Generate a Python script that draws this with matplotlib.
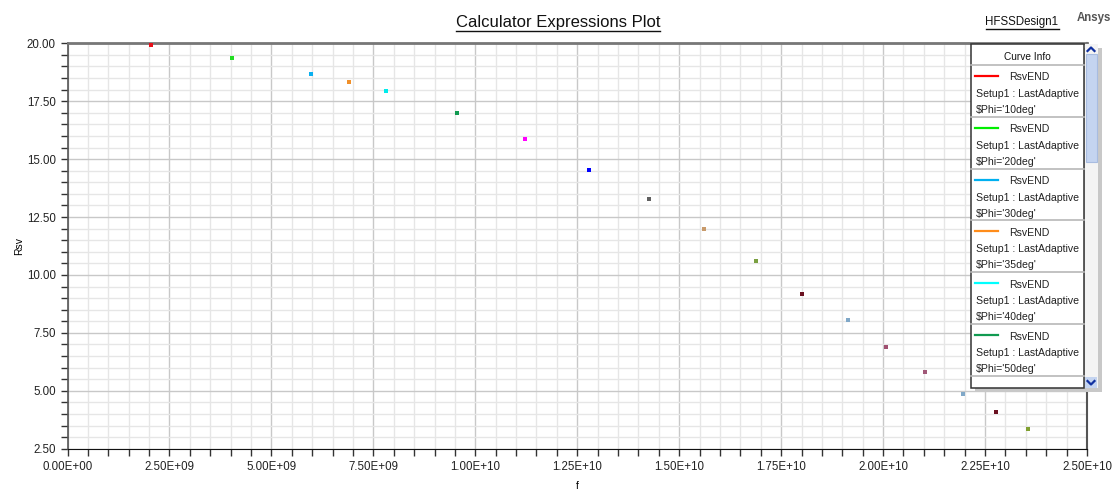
import numpy as np
import matplotlib
matplotlib.use("Agg")
import matplotlib.pyplot as plt
from matplotlib.patches import Rectangle
from matplotlib.lines import Line2D
from matplotlib.ticker import MultipleLocator, FuncFormatter

plt.rcParams['font.family'] = ['Liberation Sans', 'DejaVu Sans']

# sweep points (one per $Phi value)
freq = [2.05e9, 4.04e9, 5.97e9, 6.91e9, 7.82e9, 9.56e9, 11.23e9, 12.78e9, 14.27e9,
        15.61e9, 16.88e9, 18.00e9, 19.15e9, 20.06e9, 21.03e9, 21.95e9, 22.78e9, 23.55e9]
rsv = [19.93, 19.35, 18.69, 18.32, 17.94, 16.99, 15.87, 14.54, 13.27,
       11.97, 10.60, 9.19, 8.07, 6.88, 5.80, 4.88, 4.09, 3.34]
point_colors = ['#e8101a', '#22dd22', '#0ab0f0', '#f0902a', '#00ecec', '#109a50',
                '#ff00ff', '#0000ff', '#606060', '#c89a6a', '#7aa040', '#6a1020',
                '#80a8c8', '#a05070', '#a05878', '#80a8c8', '#6a1020', '#80a030']

# entries visible in the "Curve Info" box
legend_phi = ["10deg", "20deg", "30deg", "35deg", "40deg", "50deg"]
legend_colors = ['#ff0000', '#00ee00', '#00b0f0', '#ff8c1a', '#00ffff', '#109a50']

W, H = 1115, 491
fig = plt.figure(figsize=(W / 100, H / 100), dpi=100)


def px(x, y):
    return x / W, 1 - y / H


x0, x1, y0, y1 = 67.5, 1087, 43.3, 448.7
ax = fig.add_axes([x0 / W, 1 - y1 / H, (x1 - x0) / W, (y1 - y0) / H])

for f, r, c in zip(freq, rsv, point_colors):
    ax.plot(f, r, 's', color=c, markersize=2.3, markeredgewidth=0,
            clip_on=False, zorder=5)

ax.set_xlim(0, 2.5e10)
ax.set_ylim(2.5, 20)
ax.xaxis.set_major_locator(MultipleLocator(2.5e9))
ax.xaxis.set_minor_locator(MultipleLocator(5e8))
ax.yaxis.set_major_locator(MultipleLocator(2.5))
ax.yaxis.set_minor_locator(MultipleLocator(0.5))
ax.xaxis.set_major_formatter(FuncFormatter(lambda v, p: f"{v:.2E}"))
ax.yaxis.set_major_formatter(FuncFormatter(lambda v, p: f"{v:.2f}"))
ax.tick_params(which='both', direction='out', length=5, width=1, colors='#333333',
               labelsize=8.3, labelcolor='#222222')
ax.grid(which='major', color='#c8c8c8', lw=1)
ax.grid(which='minor', color='#e6e6e6', lw=1)
ax.set_axisbelow(True)
ax.spines['top'].set_color('#777777')
ax.spines['top'].set_linewidth(2)
ax.spines['left'].set_color('#555555')
ax.spines['left'].set_linewidth(1.2)
ax.spines['bottom'].set_color('#111111')
ax.spines['right'].set_color('#555555')
ax.spines['right'].set_linewidth(1.5)
ax.set_xlabel("f", fontsize=7.5, labelpad=6)
ax.set_ylabel("Rsv", fontsize=7.5, labelpad=2)

# titles
title = fig.text(*px(558, 22), "Calculator Expressions Plot", fontsize=12,
                 ha='center', va='center', color='#111111')
design = fig.text(*px(1022, 22), "HFSSDesign1", fontsize=8.3,
                  ha='center', va='center', color='#111111')
fig.text(*px(1094, 18), "Ansys", fontsize=8.3, weight='bold',
         ha='center', va='center', color='#555555')

fig.canvas.draw()
rend = fig.canvas.get_renderer()
for t in (title, design):
    bb = t.get_window_extent(rend)
    yline = bb.y0 - 1
    fig.add_artist(Line2D([bb.x0 / W, bb.x1 / W], [yline / H, yline / H],
                          color='#111111', lw=1))

# Curve Info box
lx0, lx1, ly0, ly1 = 971, 1084, 43.5, 388
fig.add_artist(Rectangle(px(975, 392), 127 / W, 344 / H, facecolor='#c8c8c8',
                         edgecolor='none', zorder=5))
fig.add_artist(Rectangle(px(lx0, ly1), (lx1 - lx0) / W, (ly1 - ly0) / H,
                         facecolor='white', edgecolor='#333333', lw=1.1, zorder=6))
# scrollbar
fig.add_artist(Rectangle(px(1084.5, 388), 13 / W, 344.5 / H, facecolor='#f4f4f4',
                         edgecolor='none', zorder=6))
fig.add_artist(Rectangle(px(1085.5, 162), 11 / W, 108 / H, facecolor='#c4d4f0',
                         edgecolor='#a8bce0', lw=0.8, zorder=7))
fig.add_artist(Rectangle(px(1085, 388), 12 / W, 11 / H, facecolor='#c4d4f0',
                         edgecolor='none', zorder=7))
fig.add_artist(Line2D([1087.5 / W, 1091 / W, 1094.5 / W],
                      [1 - 51 / H, 1 - 47.5 / H, 1 - 51 / H],
                      color='#1030a0', lw=1.6, zorder=8))
fig.add_artist(Line2D([1087.5 / W, 1091 / W, 1094.5 / W],
                      [1 - 381 / H, 1 - 384.5 / H, 1 - 381 / H],
                      color='#1030a0', lw=1.6, zorder=8))

fig.text(*px(1027.5, 57), "Curve Info", fontsize=7.3, ha='center', va='center',
         color='#111111', zorder=9)
step = 51.8
for i, (phi, c) in enumerate(zip(legend_phi, legend_colors)):
    top = 65 + i * step
    fig.add_artist(Line2D([lx0 / W, lx1 / W], [1 - top / H, 1 - top / H],
                          color='#b8b8b8', lw=1.2, zorder=8))
    fig.add_artist(Line2D([975 / W, 998 / W], [1 - (top + 11) / H] * 2,
                          color=c, lw=1.6, zorder=8))
    fig.text(*px(1009, top + 12.5), "RsvEND", fontsize=7.6, va='center',
             color='#222222', zorder=9)
    fig.text(*px(975.5, top + 29), "Setup1 : LastAdaptive", fontsize=7.6,
             va='center', color='#222222', zorder=9)
    fig.text(*px(975.5, top + 45), f"$Phi='{phi}'", fontsize=7.6, va='center',
             color='#222222', zorder=9, parse_math=False)
bot = 65 + 6 * step
fig.add_artist(Line2D([lx0 / W, lx1 / W], [1 - bot / H, 1 - bot / H],
                      color='#b8b8b8', lw=1.2, zorder=8))

fig.savefig("out.png", dpi=100)
